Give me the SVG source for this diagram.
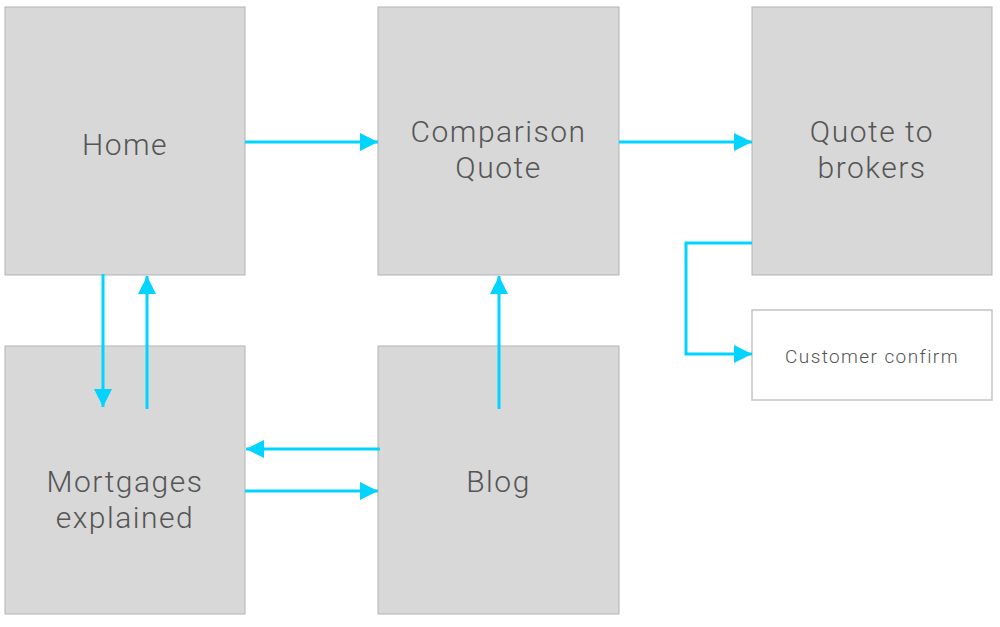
<svg xmlns="http://www.w3.org/2000/svg" width="1000" height="627" viewBox="0 0 1000 627">
<defs>
<style>
.box{fill:#d8d8d8;stroke:#b3b3b3;stroke-width:1}
.wbox{fill:#ffffff;stroke:#c4c4c4;stroke-width:1.5}
.lbl{font-family:Roboto,"Liberation Sans",sans-serif;font-weight:300;font-size:30px;fill:#555555;text-anchor:middle;letter-spacing:1.5px}
.sm{font-size:19px;letter-spacing:1.4px}
.con{fill:none;stroke:#00d4ff;stroke-width:3}
</style>
<marker id="ah" markerWidth="18" markerHeight="18" viewBox="0 0 18 18" refX="18" refY="9" orient="auto" markerUnits="userSpaceOnUse">
<path d="M0,0 L18,9 L0,18 Z" fill="#00d4ff"/>
</marker>
</defs>
<rect width="1000" height="627" fill="#ffffff"/>
<g id="home"><rect class="box" x="5" y="7" width="240" height="268"/><text class="lbl" x="125" y="155">Home</text></g>
<g id="comparison"><rect class="box" x="378" y="7" width="241" height="268"/><text class="lbl" x="498.5" y="142">Comparison</text><text class="lbl" x="498.5" y="178">Quote</text></g>
<g id="brokers"><rect class="box" x="752" y="7" width="240" height="268"/><text class="lbl" x="872" y="142">Quote to</text><text class="lbl" x="872" y="178">brokers</text></g>
<g id="confirm"><rect class="wbox" x="752" y="310" width="240" height="90"/><text class="lbl sm" x="872" y="363">Customer confirm</text></g>
<g id="mortgages"><rect class="box" x="5" y="346" width="240" height="268"/><text class="lbl" x="125" y="492">Mortgages</text><text class="lbl" x="125" y="528">explained</text></g>
<g id="blog"><rect class="box" x="378" y="346" width="241" height="268"/><text class="lbl" x="498.5" y="492">Blog</text></g>
<g id="connectors">
<path class="con" d="M245,142 H378" marker-end="url(#ah)"/>
<path class="con" d="M619,142 H752" marker-end="url(#ah)"/>
<path class="con" d="M752,243 H686 V354 H752" marker-end="url(#ah)"/>
<path class="con" d="M103,274 V407" marker-end="url(#ah)"/>
<path class="con" d="M147,409 V276" marker-end="url(#ah)"/>
<path class="con" d="M380,449 H246" marker-end="url(#ah)"/>
<path class="con" d="M245,491 H378" marker-end="url(#ah)"/>
<path class="con" d="M499,409 V276" marker-end="url(#ah)"/>
</g>
</svg>
